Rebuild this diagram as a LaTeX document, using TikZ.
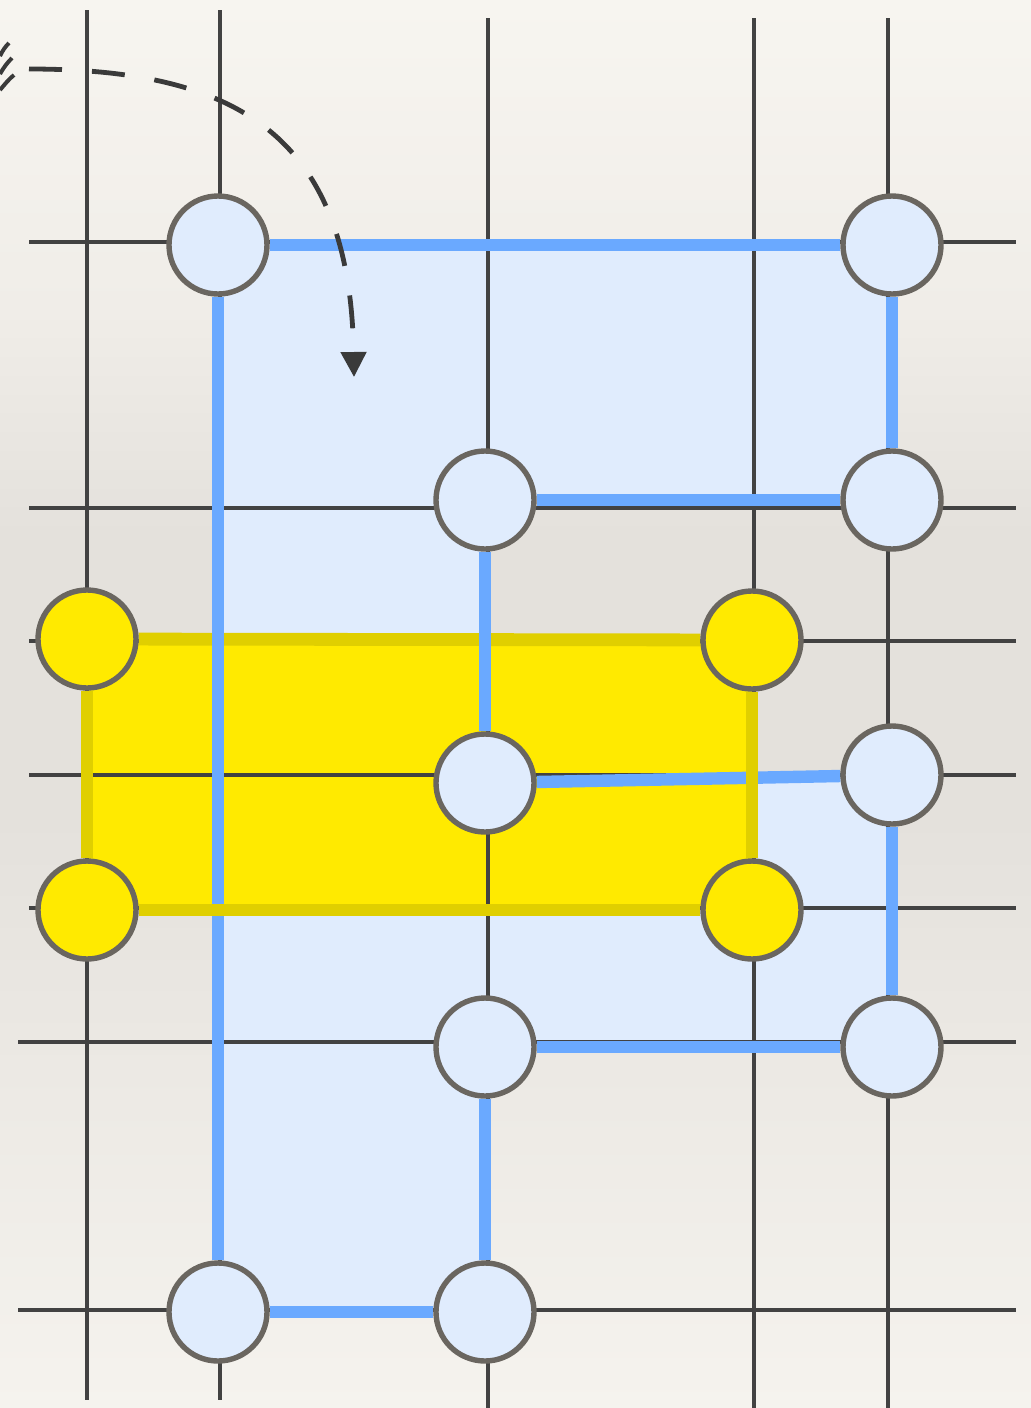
\documentclass[tikz,border=0pt]{standalone}
\usetikzlibrary{arrows.meta}
\pgfdeclarelayer{paper}
\pgfdeclarelayer{fills}
\pgfdeclarelayer{grid}
\pgfdeclarelayer{yedge}
\pgfdeclarelayer{edges}
\pgfdeclarelayer{yedgetop}
\pgfsetlayers{paper,fills,grid,yedge,edges,yedgetop,main}
\definecolor{gridc}{HTML}{424242}
\definecolor{ringc}{HTML}{6A6660}
\definecolor{nodefill}{HTML}{E0ECFD}
\definecolor{blueedge}{HTML}{6AA9FF}
\definecolor{yellowfill}{HTML}{FFEA00}
\definecolor{yellowedge}{HTML}{E0CF00}
\definecolor{arrowc}{HTML}{3A3A3A}
\definecolor{paperTop}{HTML}{F7F5F0}
\definecolor{paperUp}{HTML}{F0EDE8}
\definecolor{paperMid}{HTML}{E4E1DC}
\definecolor{paperLow}{HTML}{ECE9E4}
\definecolor{paperBot}{HTML}{F5F3EE}
\pgfdeclareverticalshading{papershade}{100bp}{
  color(0bp)=(paperBot); color(25bp)=(paperBot); color(37bp)=(paperLow);
  color(46bp)=(paperMid); color(56bp)=(paperMid); color(64bp)=(paperUp);
  color(75bp)=(paperTop); color(100bp)=(paperTop)}
\tikzset{
  gridline/.style={draw=gridc, line width=2.2pt},
  bnode/.style={circle, draw=ringc, fill=nodefill, line width=2.7pt, minimum size=49pt, inner sep=0pt},
  ynode/.style={bnode, fill=yellowfill},
  bedge/.style={draw=blueedge, line width=6.2pt},
  yedgestyle/.style={draw=yellowedge, line width=6.4pt},
  flowarrow/.style={draw=arrowc, line width=2.4pt, dash pattern=on 16.5pt off 15pt, -{Triangle[length=12.5pt,width=12.5pt]}},
  leftmark/.style={draw=arrowc, line width=2pt}
}
\begin{document}
\begin{tikzpicture}[x=0.5pt,y=-0.5pt]
\useasboundingbox (0,0) rectangle (1031,1408);
% nodes
\node[bnode] (b1) at (218,245) {};
\node[bnode] (b2) at (892,245) {};
\node[bnode] (b3) at (485,500) {};
\node[bnode] (b4) at (892,500) {};
\node[bnode] (b5) at (485,783) {};
\node[bnode] (b6) at (892,775) {};
\node[bnode] (b7) at (485,1047) {};
\node[bnode] (b8) at (892,1047) {};
\node[bnode] (b9) at (218,1312) {};
\node[bnode] (b10) at (485,1312) {};
\node[ynode] (y1) at (87,639) {};
\node[ynode] (y2) at (752,640) {};
\node[ynode] (y3) at (752,910) {};
\node[ynode] (y4) at (87,910) {};
\coordinate (as) at (29,69);
\coordinate (ae) at (354,377);
% paper
\begin{pgfonlayer}{paper}
\shade[shading=papershade] (0,0) rectangle (1031,1408);
\end{pgfonlayer}
% fills
\begin{pgfonlayer}{fills}
\fill[nodefill] (b1.center) -- (b2.center) -- (b4.center) -- (b3.center) -- (b5.center) -- (b6.center) -- (b8.center) -- (b7.center) -- (b10.center) -- (b9.center) -- cycle;
\fill[yellowfill] (y1.center) -- (y2.center) -- (y3.center) -- (y4.center) -- cycle;
\end{pgfonlayer}
% grid
\begin{pgfonlayer}{grid}
\draw[gridline] (87,10) -- (87,1400);
\draw[gridline] (220,10) -- (220,1400);
\draw[gridline] (488,18) -- (488,1408);
\draw[gridline] (754,18) -- (754,1408);
\draw[gridline] (888,18) -- (888,1408);
\draw[gridline] (29,242) -- (1016,242);
\draw[gridline] (29,508) -- (1016,508);
\draw[gridline] (29,641) -- (1016,641);
\draw[gridline] (29,775) -- (1016,775);
\draw[gridline] (29,908) -- (1016,908);
\draw[gridline] (18,1042) -- (1016,1042);
\draw[gridline] (18,1310) -- (1016,1310);
\end{pgfonlayer}
% yellow top edge (under blue)
\begin{pgfonlayer}{yedge}
\draw[yedgestyle] (y1) -- (y2);
\end{pgfonlayer}
% blue edges
\begin{pgfonlayer}{edges}
\draw[bedge] (b1) -- (b2);
\draw[bedge] (b2) -- (b4);
\draw[bedge] (b4) -- (b3);
\draw[bedge] (b3) -- (b5);
\draw[bedge] (b5) -- (b6);
\draw[bedge] (b6) -- (b8);
\draw[bedge] (b8) -- (b7);
\draw[bedge] (b7) -- (b10);
\draw[bedge] (b10) -- (b9);
\draw[bedge] (b9) -- (b1);
\end{pgfonlayer}
% other yellow edges (over blue)
\begin{pgfonlayer}{yedgetop}
\draw[yedgestyle] (y2) -- (y3);
\draw[yedgestyle] (y3) -- (y4);
\draw[yedgestyle] (y4) -- (y1);
\end{pgfonlayer}
% dashed arrow
\draw[flowarrow] (as) .. controls (230,69) and (350,130) .. (ae);
% partial marks at left edge
\draw[leftmark] (0,56) .. controls (3,50) and (5,47) .. (9,43);
\draw[leftmark] (0,74) .. controls (4,67) and (7,63) .. (12,58);
\draw[leftmark] (0,90) .. controls (5,84) and (9,79) .. (14,75);
\end{tikzpicture}
\end{document}
